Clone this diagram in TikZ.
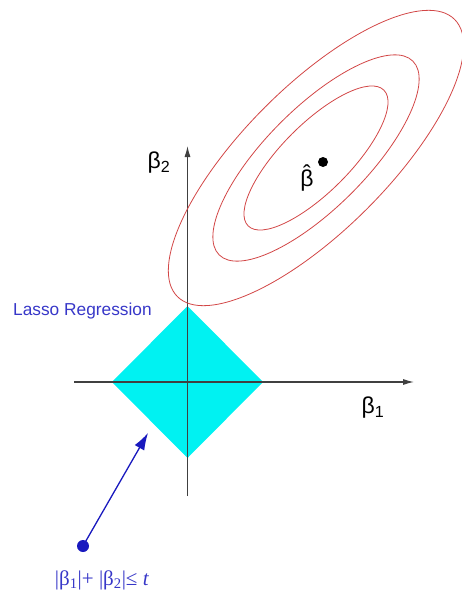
\documentclass[tikz,border=0pt]{standalone}
\usepackage{fontspec}
\setmainfont{Liberation Sans}
\newfontfamily\serifface{Liberation Serif}
\usetikzlibrary{arrows.meta}
\definecolor{contour}{RGB}{210,70,70}
\definecolor{lassoblue}{RGB}{55,55,200}
\definecolor{arrowblue}{RGB}{25,25,190}
\definecolor{regioncyan}{RGB}{0,242,242}
\tikzset{
  axisline/.style={draw=black!75, line width=1.1pt, -{Latex[length=11pt,width=6pt]}},
  contourline/.style={draw=contour, line width=0.8pt},
  greeklabel/.style={font=\fontsize{23}{23}\selectfont, inner sep=0pt},
}
\begin{document}
\begin{tikzpicture}[x=1pt,y=-1pt]
\useasboundingbox (0,0) rectangle (461,599);
% constraint region
\fill[regioncyan] (187.5,306) -- (263,382) -- (187.5,458) -- (112,382) -- cycle;
% axes
\coordinate (xs) at (74,382);
\coordinate (xe) at (414,382);
\coordinate (ys) at (187.5,496);
\coordinate (ye) at (187.5,146);
\draw[axisline] (xs) -- (xe);
\draw[axisline] (ys) -- (ye);
% contours
\coordinate (c) at (316,158);
\draw[contourline, rotate around={45:(c)}] (c) ellipse [x radius=196pt, y radius=72pt];
\draw[contourline, rotate around={45:(c)}] (c) ellipse [x radius=137pt, y radius=50pt];
\draw[contourline, rotate around={45:(c)}] (c) ellipse [x radius=96pt, y radius=34pt];
% beta hat
\node[circle, fill=black, inner sep=0pt, minimum size=10pt] (bdot) at (323,162) {};
\node[greeklabel] (bhat) at (307,178) {\setbox0\hbox{β}\rlap{\hbox to\wd0{\hss\raisebox{0.24em}{ˆ}\hss}}β};
\node[greeklabel] (b2) at (159,163) {β\textsubscript{2}};
\node[greeklabel] (b1) at (373,408) {β\textsubscript{1}};
% labels
\node[anchor=west, text=lassoblue, font=\fontsize{17.3}{17.3}\selectfont, inner sep=0pt] (lasso) at (13,311) {Lasso Regression};
\node[text=lassoblue, font=\serifface\fontsize{21}{21}\selectfont, inner sep=0pt] (constraint) at (102,580) {|β\textsubscript{1}|+ |β\textsubscript{2}|≤ \textit{t}};
% pointer
\node[circle, fill=arrowblue, inner sep=0pt, minimum size=12pt] (pdot) at (83,546) {};
\coordinate (ptip) at (148,433);
\draw[arrowblue, line width=1.3pt, -{Latex[length=17pt,width=11pt]}] (pdot.center) -- (ptip);
\end{tikzpicture}
\end{document}
